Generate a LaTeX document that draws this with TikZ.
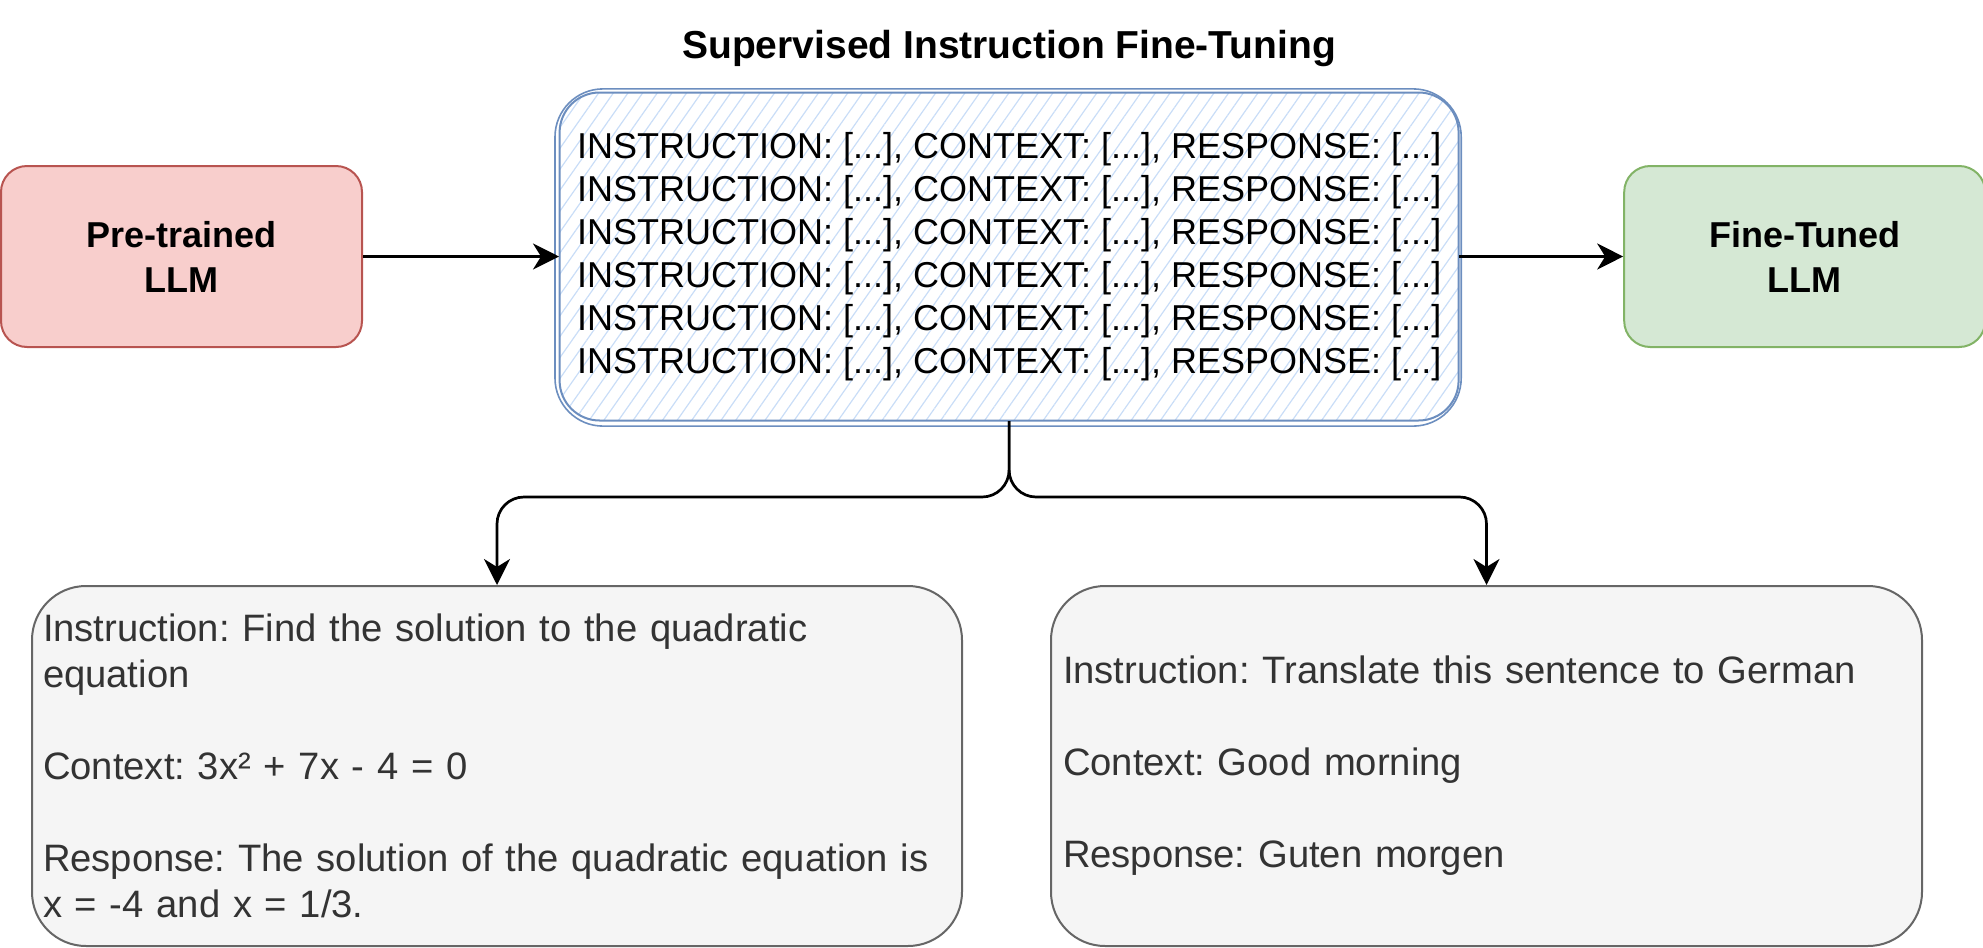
\documentclass[tikz,border=0pt]{standalone}
\usepackage{fontspec}
\setmainfont{Liberation Sans}
\usepackage{xcolor}
\usetikzlibrary{arrows.meta,positioning,patterns.meta}
\frenchspacing

\definecolor{prefill}{HTML}{F8CECC}
\definecolor{preline}{HTML}{B85450}
\definecolor{finefill}{HTML}{D5E8D4}
\definecolor{fineline}{HTML}{82B366}
\definecolor{sketchblue}{HTML}{6C8EBF}
\definecolor{hatchblue}{HTML}{C9DDF7}
\definecolor{exfill}{HTML}{F5F5F5}
\definecolor{exline}{HTML}{666666}
\definecolor{extext}{HTML}{333333}

\begin{document}
\begin{tikzpicture}[
    x=0.5pt, y=-0.5pt,
    llm node/.style={rectangle,rounded corners=13pt,draw,line width=1pt,align=center,font=\fontsize{18}{22.5}\selectfont\bfseries,minimum width=180.5pt,minimum height=90.5pt},
    data node/.style={rectangle,rounded corners=20pt,draw=sketchblue,line width=1pt,pattern={Lines[angle=55,distance=6pt,line width=0.6pt]},pattern color=hatchblue,align=center,font=\fontsize{18}{21.5}\selectfont,minimum width=449.5pt,minimum height=164pt,inner sep=0pt},
    example node/.style={rectangle,rounded corners=27pt,draw=exline,fill=exfill,line width=1pt,text=extext,align=left,font=\fontsize{19.1}{23}\selectfont,minimum height=180pt,inner xsep=5.5pt},
    title/.style={font=\fontsize{19.5}{23}\selectfont\bfseries,inner sep=0pt},
    arrow/.style={->,>={Stealth[length=13pt,width=13pt,inset=4pt]},line width=1.35pt}
]
\useasboundingbox (0,0) rectangle (1983,948);

% Models and training data
\node[llm node,fill=prefill,draw=preline] (pre) at (181.5,256.5) {Pre-trained\\LLM};
\node[data node, right=98pt of pre] (sft) {INSTRUCTION: [...], CONTEXT: [...], RESPONSE: [...]\\
INSTRUCTION: [...], CONTEXT: [...], RESPONSE: [...]\\
INSTRUCTION: [...], CONTEXT: [...], RESPONSE: [...]\\
INSTRUCTION: [...], CONTEXT: [...], RESPONSE: [...]\\
INSTRUCTION: [...], CONTEXT: [...], RESPONSE: [...]\\
INSTRUCTION: [...], CONTEXT: [...], RESPONSE: [...]};
\node[llm node,fill=finefill,draw=fineline, right=82pt of sft] (fine) {Fine-Tuned\\LLM};
\draw[sketchblue,line width=0.8pt,rounded corners=24pt] ([xshift=-2pt,yshift=-2.5pt]sft.south west) rectangle ([xshift=1pt,yshift=1.5pt]sft.north east);

% Title
\node[title, above=12.5pt of sft] (title) {Supervised Instruction Fine-Tuning};

% Examples
\node[example node, text width=454pt] (ex1) at (497,766) {Instruction: Find the solution to the quadratic\\
equation\\[23pt]
Context: 3x² + 7x - 4 = 0\\[23pt]
Response: The solution of the quadratic equation is\\
x = -4 and x = 1/3.};
\node[example node, text width=423.5pt, inner xsep=6pt] (ex2) at (1486.5,766) {Instruction: Translate this sentence to German\\[23pt]
Context: Good morning\\[23pt]
Response: Guten morgen};

% Arrows
\coordinate (fork) at (sft.south |- 0,497);
\draw[arrow] (pre) -- (sft);
\draw[arrow] (sft) -- (fine);
\draw[arrow, rounded corners=13.5pt] (sft.south) -- (fork) -| (ex1.north);
\draw[arrow, rounded corners=13.5pt] (sft.south) -- (fork) -| (ex2.north);

\end{tikzpicture}
\end{document}
